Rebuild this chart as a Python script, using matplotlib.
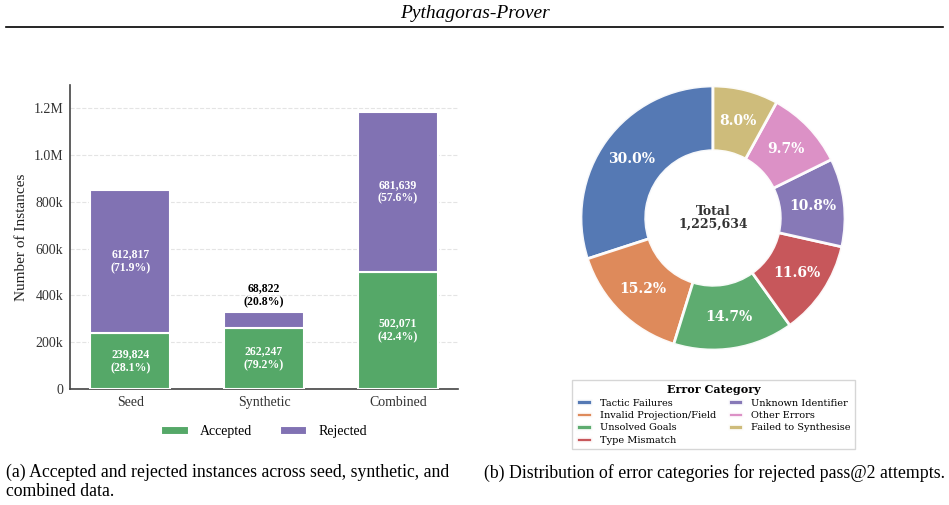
import matplotlib
matplotlib.use('Agg')
import matplotlib.pyplot as plt
from matplotlib.lines import Line2D
from matplotlib.ticker import FuncFormatter
import numpy as np

# bar chart data
sources  = ['Seed', 'Synthetic', 'Combined']
accepted = [239824, 262247, 502071]
rejected = [612817, 68822, 681639]

# donut data
categories = ['Tactic Failures', 'Invalid Projection/Field', 'Unsolved Goals',
              'Type Mismatch', 'Unknown Identifier', 'Other Errors',
              'Failed to Synthesise']
shares = [30.0, 15.2, 14.7, 11.6, 10.8, 9.7, 8.0]
total_errors = 1225634

GREEN  = '#55A868'
PURPLE = '#8172B3'
pie_colors = ['#4C72B0', '#DD8452', '#55A868', '#C44E52', '#8172B3',
              '#DA8BC3', '#CCB974']

plt.rcParams['font.family'] = 'Liberation Serif'

fig = plt.figure(figsize=(9.49, 5.05), dpi=100)

# page header
fig.text(0.5, 1 - 13/505, 'Pythagoras-Prover', ha='center', va='center',
         fontsize=14, style='italic')
fig.add_artist(Line2D([6/949, 943/949], [1 - 27/505, 1 - 27/505],
                      color='black', lw=1.2))

# ---- (a) stacked bars
ax = fig.add_axes([70/949, 1 - 389/505, 388/949, 304/505])
x = np.arange(len(sources))
ax.bar(x, accepted, 0.6, color=GREEN, edgecolor='white', linewidth=1.5,
       label='Accepted', zorder=3)
ax.bar(x, rejected, 0.6, bottom=accepted, color=PURPLE, edgecolor='white',
       linewidth=1.5, label='Rejected', zorder=3)

for i in range(len(sources)):
    tot = accepted[i] + rejected[i]
    pa = accepted[i] / tot * 100
    pr = rejected[i] / tot * 100
    ax.text(x[i], accepted[i] / 2, f'{accepted[i]:,}\n({pa:.1f}%)',
            ha='center', va='center', color='white', fontsize=8.5,
            fontweight='bold', zorder=4)
    if rejected[i] > 150000:
        ax.text(x[i], accepted[i] + rejected[i] / 2,
                f'{rejected[i]:,}\n({pr:.1f}%)', ha='center', va='center',
                color='white', fontsize=8.5, fontweight='bold', zorder=4)
    else:
        ax.text(x[i], tot + 15000, f'{rejected[i]:,}\n({pr:.1f}%)',
                ha='center', va='bottom', color='black', fontsize=8.5,
                fontweight='bold', zorder=4)

ax.set_xlim(-0.45, 2.45)
ax.set_ylim(0, 1.3e6)
ax.set_yticks([0, 2e5, 4e5, 6e5, 8e5, 1e6, 1.2e6])

def fmt(v, pos):
    if v == 0:
        return '0'
    if v >= 1e6:
        return f'{v/1e6:.1f}M'
    return f'{int(v/1e3)}k'

ax.yaxis.set_major_formatter(FuncFormatter(fmt))
ax.set_xticks(x)
ax.set_xticklabels(sources)
ax.tick_params(labelsize=10, length=0, colors='#333333', pad=5)
ax.set_ylabel('Number of Instances', fontsize=11, color='#222222')
ax.grid(axis='y', linestyle='--', color='#e4e4e4', linewidth=0.8, zorder=0)
for s in ['top', 'right']:
    ax.spines[s].set_visible(False)
for s in ['left', 'bottom']:
    ax.spines[s].set_color('#444444')
    ax.spines[s].set_linewidth(1.2)

fig.legend(*ax.get_legend_handles_labels(), loc='center',
           bbox_to_anchor=(264/949, 1 - 432/505), ncol=2, frameon=False,
           fontsize=10, handlelength=2.0, handleheight=0.6, columnspacing=2.0)

# ---- (b) donut
pax = fig.add_axes([(713 - 132)/949, 1 - (218 + 132)/505, 264/949, 264/505])
wedges, _, autotexts = pax.pie(
    shares, colors=pie_colors, startangle=90, counterclock=True,
    autopct='%1.1f%%', pctdistance=0.76,
    wedgeprops=dict(width=0.49, edgecolor='white', linewidth=2, alpha=0.95))
for t in autotexts:
    t.set_color('white')
    t.set_fontsize(10)
    t.set_fontweight('bold')
    t.set_family('DejaVu Serif')
pax.text(0, 0, f'Total\n{total_errors:,}', ha='center', va='center',
         fontsize=9, fontweight='bold', family='DejaVu Serif', color='#333333',
         linespacing=1.0)
pax.set_xlim(-1, 1)
pax.set_ylim(-1, 1)
pax.set_aspect('equal')

leg = fig.legend(wedges, categories, title='Error Category', loc='upper center',
                 bbox_to_anchor=(713.5/949, 1 - 375/505), ncol=2,
                 prop={'family': 'DejaVu Serif', 'size': 7},
                 title_fontproperties={'family': 'DejaVu Serif', 'size': 8,
                                       'weight': 'bold'},
                 frameon=True, fancybox=False, edgecolor='#cccccc',
                 handlelength=1.6, handleheight=0.5, columnspacing=1.2,
                 labelspacing=0.35, borderpad=0.45)

# captions
fig.text(6/949, 1 - 464/505,
         '(a) Accepted and rejected instances across seed, synthetic, and\ncombined data.',
         ha='left', va='top', fontsize=12.8, linespacing=1.15)
fig.text(484/949, 1 - 464/505,
         '(b) Distribution of error categories for rejected pass@2 attempts.',
         ha='left', va='top', fontsize=12.8)

fig.savefig('out.png', dpi=100)
